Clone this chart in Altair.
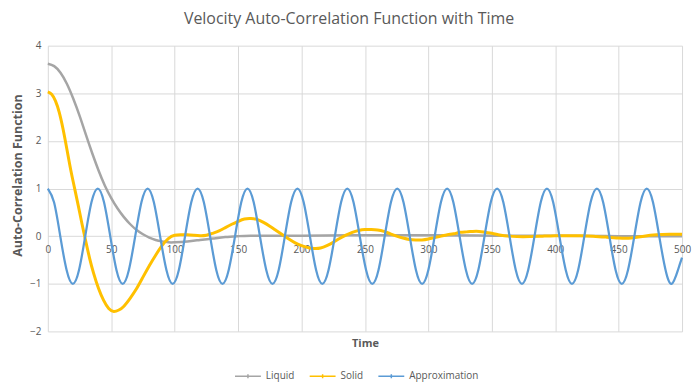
import altair as alt
import pandas as pd

# ---- data ----
liquid_t = [0, 5, 10, 15, 20, 25, 30, 35, 40, 45, 50, 55, 60, 65, 70, 75, 80, 85, 90, 95,
            100, 110, 120, 130, 140, 150, 160, 180, 200, 250, 300, 350, 400, 450, 500]
liquid_v = [3.62, 3.57, 3.43, 3.20, 2.89, 2.53, 2.13, 1.74, 1.38, 1.06, 0.80, 0.58, 0.40, 0.25,
            0.13, 0.04, -0.03, -0.08, -0.11, -0.13, -0.13, -0.11, -0.08, -0.05, -0.02, 0.00,
            0.01, 0.01, 0.01, 0.02, 0.02, 0.01, 0.01, 0.00, 0.00]

solid_t = [0, 3, 6, 9, 12, 15, 18, 21, 24, 27, 30, 33, 36, 40, 44, 48, 52, 56, 60, 65, 70, 75,
           80, 85, 90, 95, 100, 105, 110, 115, 120, 125, 130, 135, 140, 145, 150, 155, 160,
           165, 170, 175, 180, 185, 190, 195, 200, 205, 210, 215, 220, 225, 230, 235, 240,
           245, 250, 255, 260, 265, 270, 275, 280, 285, 290, 295, 300, 305, 310, 315, 320,
           325, 330, 335, 340, 345, 350, 355, 360, 370, 380, 390, 400, 410, 420, 430, 440,
           450, 460, 470, 480, 490, 500]
solid_v = [3.03, 2.98, 2.84, 2.60, 2.25, 1.83, 1.40, 1.02, 0.64, 0.25, -0.12, -0.47, -0.77,
           -1.10, -1.35, -1.52, -1.58, -1.55, -1.47, -1.30, -1.10, -0.86, -0.62, -0.40, -0.20,
           -0.05, 0.02, 0.03, 0.03, 0.02, 0.01, 0.02, 0.06, 0.11, 0.18, 0.25, 0.31, 0.36, 0.37,
           0.35, 0.29, 0.21, 0.12, 0.03, -0.06, -0.14, -0.20, -0.24, -0.26, -0.25, -0.20, -0.13,
           -0.05, 0.02, 0.08, 0.12, 0.14, 0.14, 0.13, 0.10, 0.05, 0.00, -0.04, -0.07, -0.08,
           -0.08, -0.06, -0.03, 0.00, 0.03, 0.05, 0.08, 0.09, 0.10, 0.10, 0.08, 0.06, 0.03, 0.01,
           -0.01, -0.01, 0.00, 0.01, 0.01, 0.01, 0.00, -0.02, -0.04, -0.04, 0.00, 0.03, 0.04, 0.04]

approx_t = [0.0, 4.9, 9.8, 14.8, 19.7, 24.6, 29.5, 34.4,
            39.4, 44.3, 49.2, 54.1, 59.0, 63.9, 68.9, 73.8,
            78.7, 83.6, 88.5, 93.5, 98.4, 103.3, 108.2, 113.1,
            118.1, 123.0, 127.9, 132.8, 137.7, 142.6, 147.6, 152.5,
            157.4, 162.3, 167.2, 172.2, 177.1, 182.0, 186.9, 191.8,
            196.8, 201.7, 206.6, 211.5, 216.4, 221.3, 226.3, 231.2,
            236.1, 241.0, 245.9, 250.9, 255.8, 260.7, 265.6, 270.5,
            275.5, 280.4, 285.3, 290.2, 295.1, 300.0, 305.0, 309.9,
            314.8, 319.7, 324.6, 329.6, 334.5, 339.4, 344.3, 349.2,
            354.2, 359.1, 364.0, 368.9, 373.8, 378.7, 383.7, 388.6,
            393.5, 398.4, 403.3, 408.3, 413.2, 418.1, 423.0, 427.9,
            432.9, 437.8, 442.7, 447.6, 452.5, 457.4, 462.4, 467.3,
            472.2, 477.1, 482.0, 487.0, 491.9, 496.8, 500.0]
approx_v = [1, 0.71, 0, -0.71, -1, -0.71, 0, 0.71,
            1, 0.71, 0, -0.71, -1, -0.71, 0, 0.71,
            1, 0.71, 0, -0.71, -1, -0.71, 0, 0.71,
            1, 0.71, 0, -0.71, -1, -0.71, 0, 0.71,
            1, 0.71, 0, -0.71, -1, -0.71, 0, 0.71,
            1, 0.71, 0, -0.71, -1, -0.71, 0, 0.71,
            1, 0.71, 0, -0.71, -1, -0.71, 0, 0.71,
            1, 0.71, 0, -0.71, -1, -0.71, 0, 0.71,
            1, 0.71, 0, -0.71, -1, -0.71, 0, 0.71,
            1, 0.71, 0, -0.71, -1, -0.71, 0, 0.71,
            1, 0.71, 0, -0.71, -1, -0.71, 0, 0.71,
            1, 0.71, 0, -0.71, -1, -0.71, 0, 0.71,
            1, 0.71, 0, -0.71, -1, -0.71, -0.45]

x_ticks = [0, 50, 100, 150, 200, 250, 300, 350, 400, 450, 500]
y_ticks = [-2, -1, 0, 1, 2, 3, 4]

series_names = ["Liquid", "Solid", "Approximation"]
series_colors = ["#A5A5A5", "#FFC000", "#5B9BD5"]

df = pd.concat([
    pd.DataFrame({"Time": liquid_t, "Value": liquid_v, "Series": "Liquid"}),
    pd.DataFrame({"Time": solid_t, "Value": solid_v, "Series": "Solid"}),
    pd.DataFrame({"Time": approx_t, "Value": approx_v, "Series": "Approximation"}),
], ignore_index=True)

FONT = "Open Sans"
TXT = "#595959"
GRID = "#D9D9D9"

x_enc = alt.X("Time:Q", scale=alt.Scale(domain=[0, 500], nice=False, zero=False),
              axis=alt.Axis(values=x_ticks, title="Time", domain=False,
                            ticks=False, labelPadding=-87, labelFontSize=10,
                            labelColor=TXT, labelFont=FONT, gridColor=GRID,
                            titleFont=FONT, titleFontSize=11, titleColor=TXT,
                            titleFontWeight="bold", titleY=12, titleBaseline="middle",
                            labelFlush=False))
y_enc = alt.Y("Value:Q", scale=alt.Scale(domain=[-2, 4], nice=False),
              axis=alt.Axis(values=y_ticks, title="Auto-Correlation Function", domain=False,
                            ticks=False, labelPadding=7, labelFontSize=10,
                            labelColor=TXT, labelFont=FONT, gridColor=GRID,
                            titleFont=FONT, titleFontSize=12.5, titleColor=TXT,
                            titleFontWeight="bold", titleX=-30, titleY=130,
                            titleBaseline="middle", labelFlush=False))

color_enc = alt.Color("Series:N",
                      scale=alt.Scale(domain=series_names, range=series_colors),
                      legend=alt.Legend(orient="none", legendX=187, legendY=318,
                                        direction="horizontal", title=None,
                                        symbolType="M-1,0H1M0,-0.15V0.15", symbolSize=676,
                                        symbolStrokeWidth=1.5, labelFont=FONT,
                                        labelFontSize=10, labelColor=TXT, labelOffset=4,
                                        columnPadding=12, padding=0))

widths = {"Liquid": 2.5, "Solid": 3, "Approximation": 2.25}
layers = []
for name in series_names:
    layers.append(
        alt.Chart(df).transform_filter(alt.datum.Series == name)
        .mark_line(interpolate="natural", strokeWidth=widths[name])
        .encode(x=x_enc, y=y_enc, color=color_enc, order="Time:Q")
    )

chart = alt.layer(*layers).properties(
    width=637, height=287,
    autosize="none",
    padding={"left": 40, "top": 37, "right": 10, "bottom": 51},
    title=alt.TitleParams("Velocity Auto-Correlation Function with Time", font=FONT,
                          fontSize=16, fontWeight="normal", color=TXT, anchor="middle",
                          dx=-16, offset=14),
    background="white",
).configure_view(stroke=None)

chart.save("out.html", embed_options={"renderer": "svg", "actions": False})
